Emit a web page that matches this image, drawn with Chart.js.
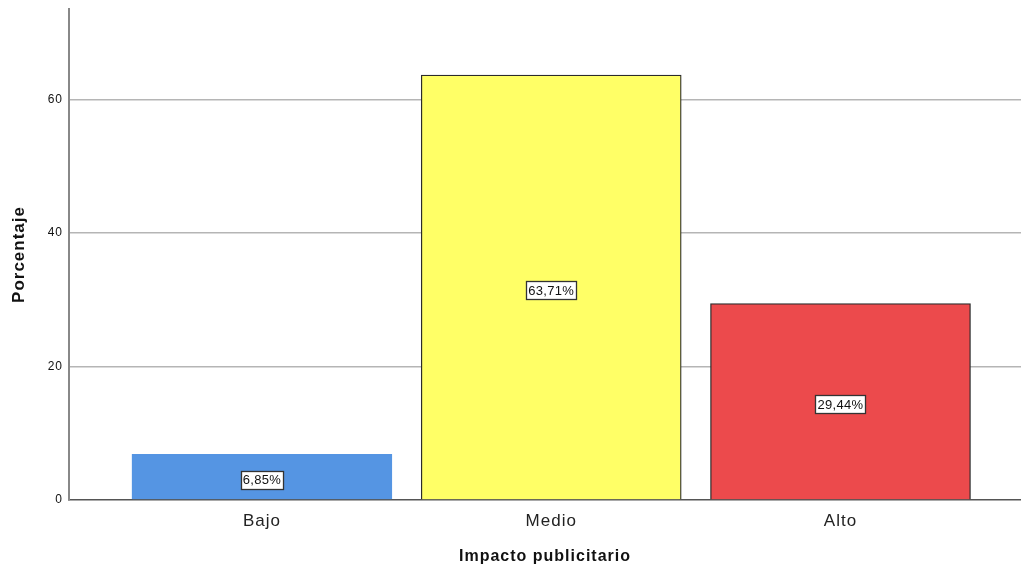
<!DOCTYPE html>
<html>
<head>
<meta charset="utf-8">
<script src="https://cdn.jsdelivr.net/npm/chart.js@4.4.1/dist/chart.umd.min.js"></script>
<style>
  html, body { margin: 0; padding: 0; background: #fff; }
  #wrap { width: 1021px; height: 571px; }
</style>
</head>
<body>
<div id="wrap"><canvas id="c" width="1021" height="571"></canvas></div>
<script>
const categories = ['Bajo', 'Medio', 'Alto'];
const percentages = [6.85, 63.71, 29.44];
const valueLabels = ['6,85%', '63,71%', '29,44%'];
const yTicks = [0, 20, 40, 60];
const barColors = ['#5595e3', '#ffff66', '#ec4a4c'];
const barBorders = ['#5595e3', '#2b2b2b', '#2b2b2b'];

const FONT = '"Liberation Sans", Arial, sans-serif';

// slightly open letter spacing for all chart text
const spacing = {
  id: 'spacing',
  beforeUpdate(chart) { chart.ctx.letterSpacing = '1px'; },
  beforeDraw(chart) { chart.ctx.letterSpacing = '1px'; }
};

// white boxed value labels centred inside each bar
const boxLabels = {
  id: 'boxLabels',
  afterDatasetsDraw(chart) {
    const ctx = chart.ctx;
    const meta = chart.getDatasetMeta(0);
    ctx.save();
    ctx.letterSpacing = '0.3px';
    ctx.font = '13px ' + FONT;
    ctx.textAlign = 'center';
    ctx.textBaseline = 'middle';
    meta.data.forEach((bar, i) => {
      const txt = valueLabels[i];
      const cx = bar.x;
      const cy = (bar.y + bar.base) / 2 + 3;
      const w = Math.round(ctx.measureText(txt).width + 4);
      const h = 18;
      const x0 = Math.round(cx - w / 2) + 0.5;
      const y0 = Math.round(cy - h / 2) + 0.5;
      ctx.fillStyle = '#ffffff';
      ctx.fillRect(x0, y0, w, h);
      ctx.strokeStyle = '#333333';
      ctx.lineWidth = 1.3;
      ctx.strokeRect(x0, y0, w, h);
      ctx.fillStyle = '#111111';
      ctx.fillText(txt, cx, cy + 1);
    });
    ctx.restore();
  }
};

new Chart(document.getElementById('c'), {
  type: 'bar',
  data: {
    datasets: [{
      data: percentages.map((v, i) => ({ x: i, y: v })),
      backgroundColor: barColors,
      borderColor: barBorders,
      borderWidth: 1.3,
      barThickness: 260
    }]
  },
  options: {
    responsive: false,
    animation: false,
    layout: { padding: { top: 9, right: 0, left: 0, bottom: 0 } },
    plugins: { legend: { display: false }, tooltip: { enabled: false } },
    scales: {
      x: {
        type: 'linear',
        offset: false,
        min: -0.667,
        max: 2.624,
        afterBuildTicks(scale) { scale.ticks = categories.map((_, i) => ({ value: i })); },
        afterFit(scale) { scale.height = 71; scale.paddingLeft = 0; scale.paddingRight = 0; },
        ticks: {
          callback: (v) => categories[v] ?? '',
          color: '#222',
          font: { family: FONT, size: 17 },
          padding: 11,
          maxRotation: 0
        },
        grid: { display: false, drawTicks: false },
        border: { display: true, color: '#555', width: 1.5 },
        title: {
          display: true,
          text: 'Impacto publicitario',
          color: '#111',
          font: { family: FONT, size: 16, weight: 'bold' },
          padding: { top: 6, bottom: 5 }
        }
      },
      y: {
        min: 0,
        max: 73.6,
        afterBuildTicks(scale) { scale.ticks = yTicks.map(v => ({ value: v })); },
        afterFit(scale) { scale.width = 69; scale.paddingTop = 0; scale.paddingBottom = 0; },
        ticks: {
          color: '#111',
          font: { family: FONT, size: 12 },
          padding: 6
        },
        grid: {
          drawTicks: false,
          color: (c) => c.tick && c.tick.value === 0 ? 'rgba(0,0,0,0)' : '#b5b5b5',
          lineWidth: 1.5
        },
        border: { display: true, color: '#888', width: 2 },
        title: {
          display: true,
          text: 'Porcentaje',
          color: '#111',
          font: { family: FONT, size: 17, weight: 'bold' },
          padding: { top: 9, bottom: 0 }
        }
      }
    }
  },
  plugins: [spacing, boxLabels]
});
</script>
</body>
</html>
